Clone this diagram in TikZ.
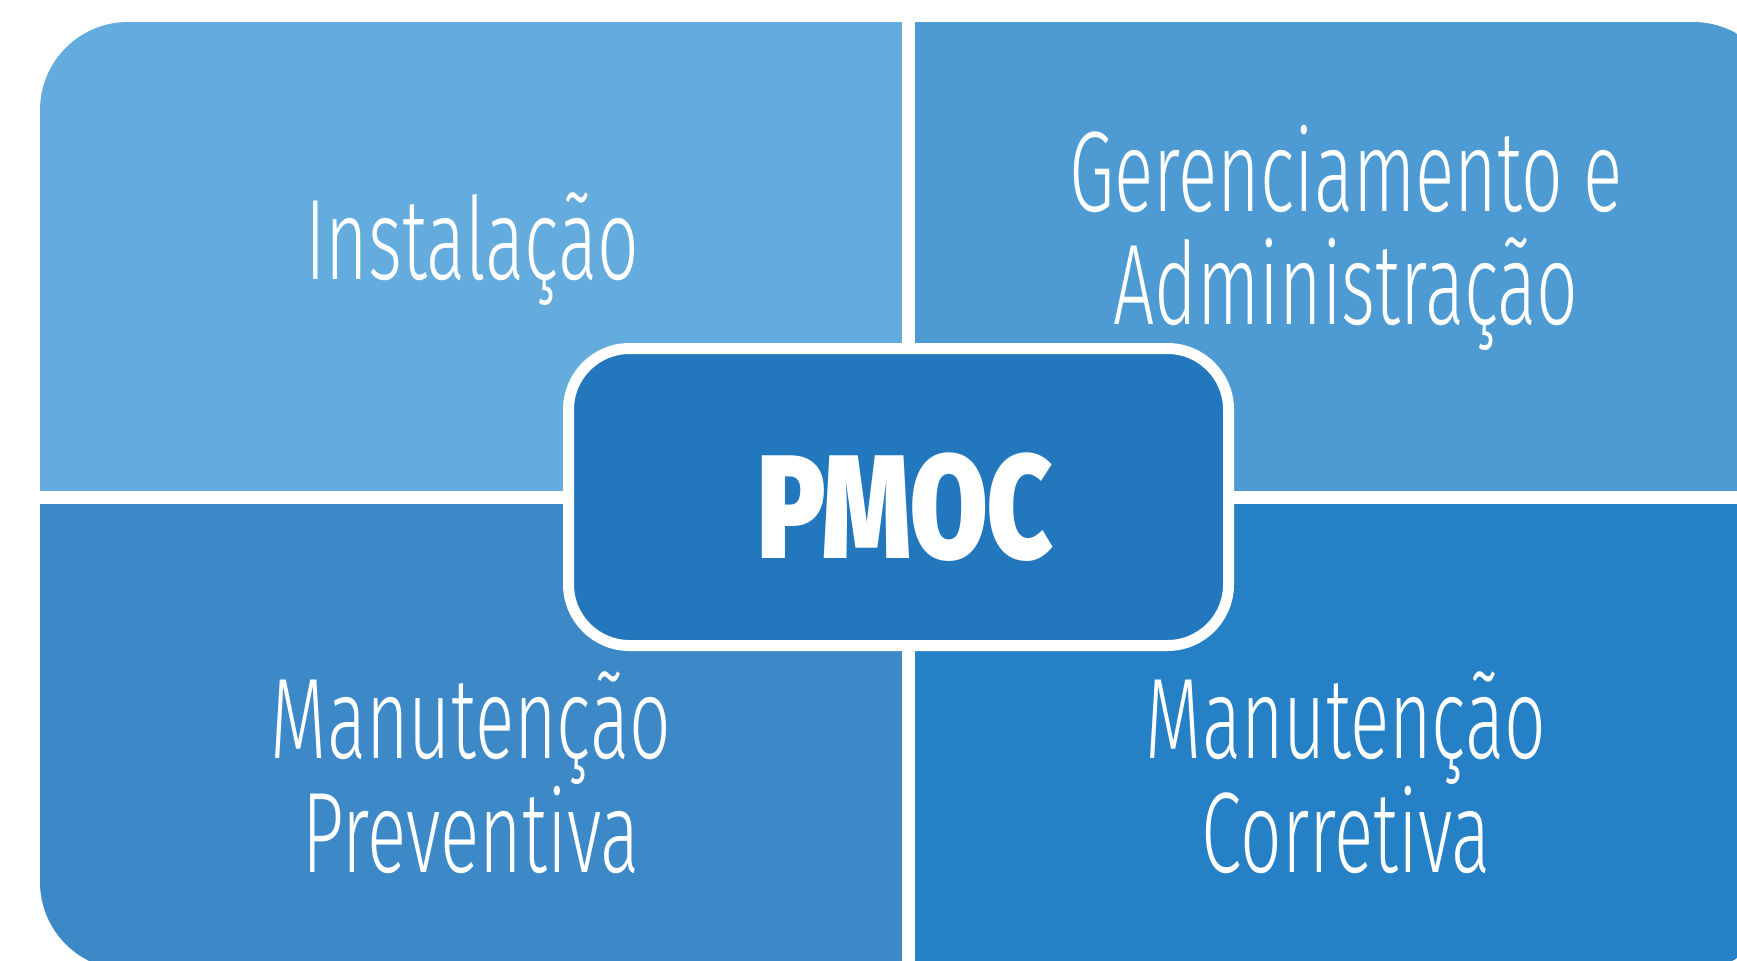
\documentclass[tikz,border=0pt]{standalone}
\usepackage{fontspec}
\newfontfamily\quadfont{Fira Sans Light}[FakeStretch=0.637]
\newfontfamily\pmocfont{Fira Sans Black}[FakeStretch=0.76]
\definecolor{quadTL}{RGB}{101,172,222}
\definecolor{quadTR}{RGB}{78,155,211}
\definecolor{quadBL}{RGB}{61,137,200}
\definecolor{quadBR}{RGB}{38,128,197}
\definecolor{pmocblue}{RGB}{34,119,189}
\begin{document}
\begin{tikzpicture}[x=0.1mm,y=-0.1mm]
\tikzstyle{quadtext} = [text=white, font=\quadfont\fontsize{32.6}{32.4}\selectfont, align=center, anchor=base]
\tikzstyle{centerbox} = [rectangle, rounded corners=6.1mm, minimum width=6.6cm, minimum height=2.97cm, fill=pmocblue, draw=white, line width=1.1mm, text=white, text height=35pt, text depth=0pt, font=\pmocfont\fontsize{42}{42}\selectfont]
\useasboundingbox (0,0) rectangle (1737,961);
\begin{scope}
\clip[rounded corners=8.8mm] (40,22) rectangle (1781,970);
\fill[quadTL] (40,22) rectangle (901.5,490.5);
\fill[quadTR] (914.5,22) rectangle (1781,490.5);
\fill[quadBL] (40,503.5) rectangle (901.5,970);
\fill[quadBR] (914.5,503.5) rectangle (1781,970);
\end{scope}
\node (inst) [quadtext] at (472,280) {Instalação};
\node (ger) [quadtext] at (1346,325) {Gerenciamento e\\Administração};
\node (prev) [quadtext] at (471,872) {Manutenção\\Preventiva};
\node (corr) [quadtext] at (1346,872) {Manutenção\\Corretiva};
\node (pmoc) [centerbox] at (898.5,497) {\hspace*{0.14cm}PMOC};
\end{tikzpicture}
\end{document}
